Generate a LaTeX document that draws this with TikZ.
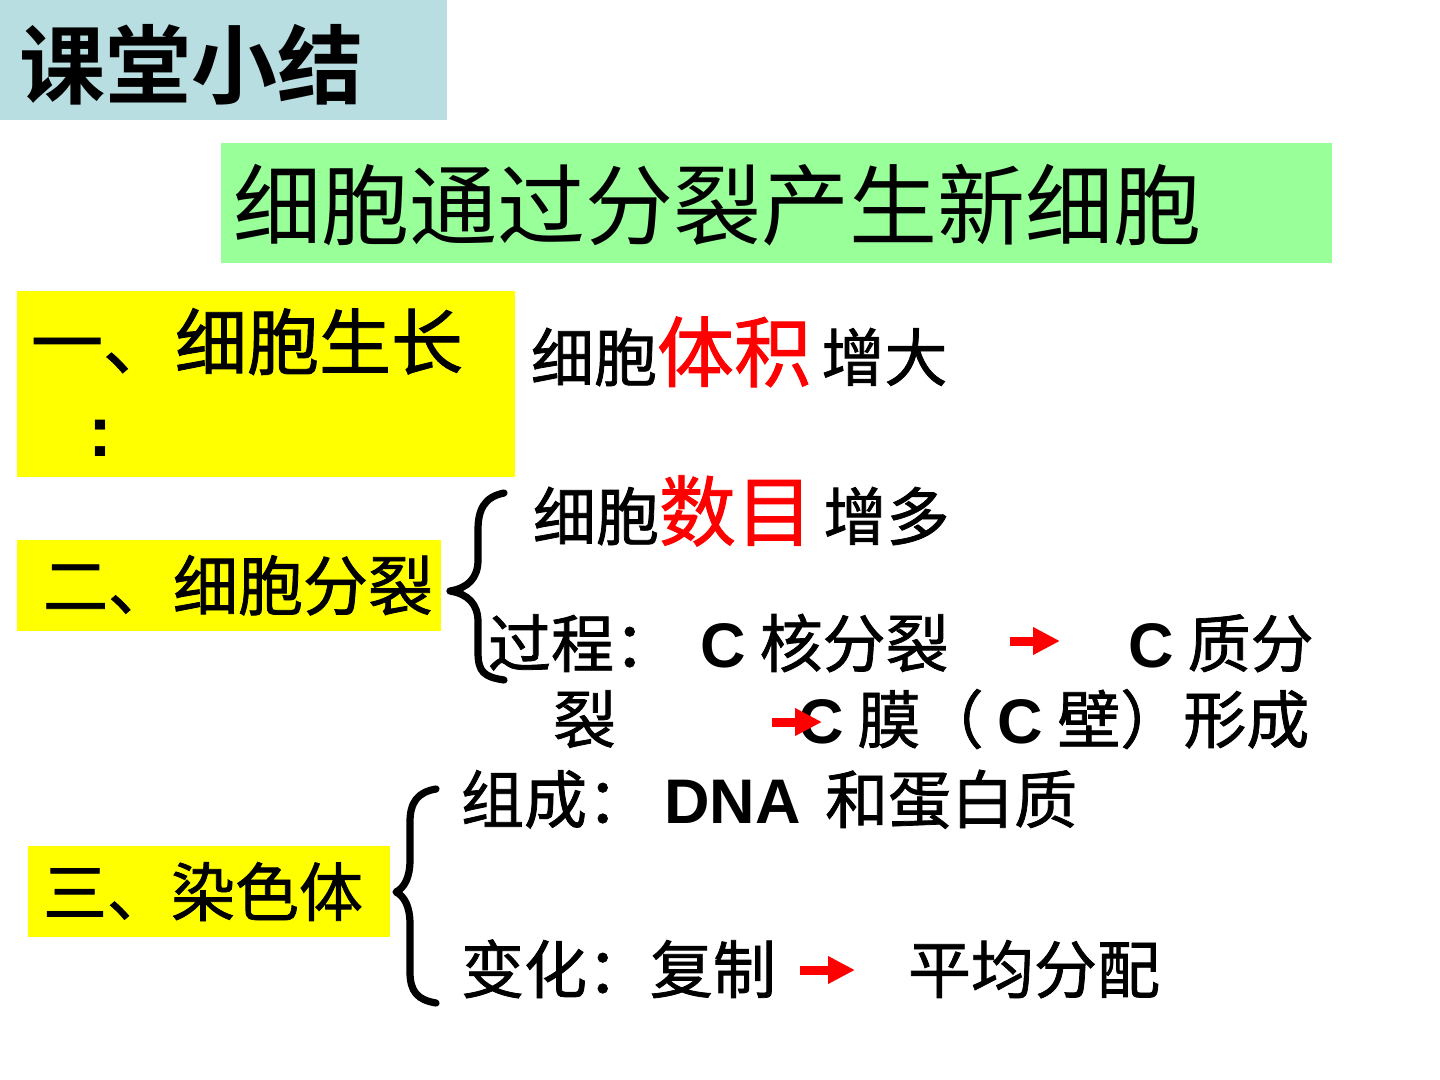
\documentclass[tikz,border=0pt]{standalone}
\usepackage{fontspec}
\usetikzlibrary{arrows.meta}
\newfontfamily\cjk{Noto Sans CJK SC}
\newfontfamily\cjkm[FakeBold=1.2]{Noto Sans CJK SC}
\newfontfamily\cjkb{Noto Sans CJK SC Bold}
\newfontfamily\arialb{Liberation Sans Bold}
\definecolor{titlebg}{HTML}{B8DEE1}
\definecolor{greenbg}{HTML}{99FF99}
\definecolor{yellowbg}{HTML}{FFFF00}
\definecolor{redtxt}{HTML}{FF0000}
\newcommand{\fs}[1]{\fontsize{#1}{#1}\selectfont}
\newcommand{\Cb}{{\arialb C}}
\tikzset{
  txt/.style={anchor=base west, inner sep=0pt, outer sep=0pt, font=\cjkm\fs{31.5pt}},
  bracestyle/.style={line width=3.6pt, line cap=round, line join=round},
  redarrow/.style={draw=redtxt, line width=4.5pt, -{Triangle[length=13.5pt,width=13pt]}},
}
\begin{document}
\begin{tikzpicture}[x=0.5pt,y=-0.5pt]
\useasboundingbox (0,0) rectangle (1440,1080);
\fill[white] (0,0) rectangle (1440,1080);
% boxes
\fill[titlebg] (0,0) rectangle (447,120);
\fill[greenbg] (221,143) rectangle (1332,263);
\fill[yellowbg] (17,291) rectangle (515,477);
\fill[yellowbg] (17,540) rectangle (441,631);
\fill[yellowbg] (28,846) rectangle (390,937);
% title
\node[txt, font=\cjkb\fs{43pt}] (title) at (19,98) {课堂小结};
\node[txt, font=\cjk\fs{44pt}] (main) at (233,239) {细胞通过分裂产生新细胞};
% section 1
\node[txt, font=\cjkm\fs{36pt}] (s1) at (31,369) {一、细胞生长};
\node[txt, font=\arialb\fs{36pt}] (s1c) at (88,457) {:};
\node[txt] (grow) at (531,381) {细胞{\color{redtxt}\fs{38.5pt}体积}\,增大};
% section 2
\node[txt, font=\cjkm\fs{32.5pt}] (s2) at (43,610) {二、细胞分裂};
\node[txt] (num) at (533,540) {细胞{\color{redtxt}\fs{38.5pt}数目}\,增多};
\node[txt] (p1) at (488,667) {过程：};
\node[txt] (p2) at (700,667) {\Cb\ 核分裂};
\node[txt] (p3) at (1128,667) {\Cb\ 质分};
\node[txt] (p4) at (553,743) {裂};
\node[txt] (p5) at (798,743) {\Cb\ 膜（ \Cb\ 壁）形成};
\coordinate (a1s) at (1010,641);
\coordinate (a1e) at (1060,641);
\coordinate (a2s) at (772,722);
\coordinate (a2e) at (822,722);
\draw[redarrow] (a1s) -- (a1e);
\draw[redarrow] (a2s) -- (a2e);
% brace 1
\draw[bracestyle] (504,493) .. controls (484,497) and (478,510) .. (478,530)
  -- (478,560) .. controls (478,578) and (468,588) .. (450,591)
  .. controls (468,594) and (478,604) .. (478,622)
  -- (478,652) .. controls (478,672) and (484,677) .. (504,680);
% section 3
\node[txt, font=\cjkm\fs{32pt}] (s3) at (43,916) {三、染色体};
\node[txt] (c1) at (461,823) {组成： {\arialb DNA}\, 和蛋白质};
\node[txt] (c2) at (461,993) {变化：复制};
\node[txt] (c3) at (908,993) {平均分配};
\coordinate (a3s) at (800,970);
\coordinate (a3e) at (855,970);
\draw[redarrow] (a3s) -- (a3e);
% brace 2
\draw[bracestyle] (436,789) .. controls (418,792) and (410,802) .. (410,822)
  -- (410,860) .. controls (410,878) and (404,888) .. (396,892)
  .. controls (404,896) and (410,906) .. (410,924)
  -- (410,972) .. controls (410,992) and (418,1000) .. (436,1003);
\end{tikzpicture}
\end{document}
